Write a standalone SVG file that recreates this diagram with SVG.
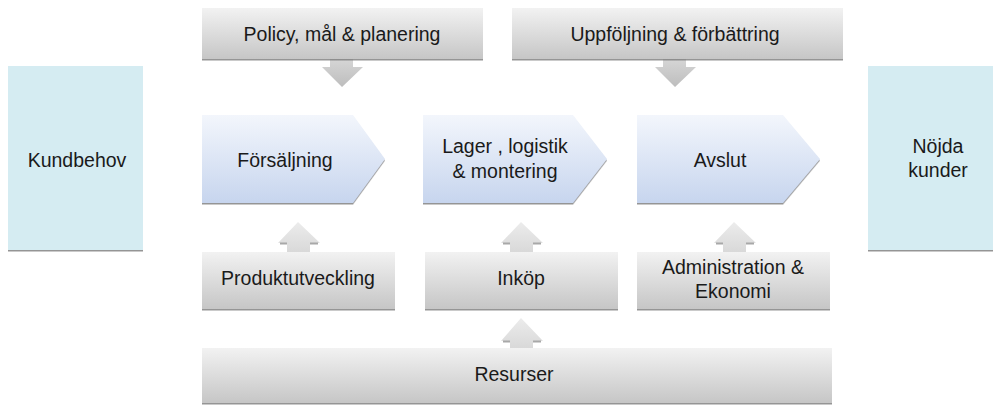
<svg xmlns="http://www.w3.org/2000/svg" width="993" height="405" viewBox="0 0 993 405">
<defs>
<linearGradient id="gGray" x1="0" y1="0" x2="0" y2="1">
<stop offset="0" stop-color="#f2f2f2"/>
<stop offset="1" stop-color="#c6c6c6"/>
</linearGradient>
<linearGradient id="gBlue" x1="0" y1="0" x2="0" y2="1">
<stop offset="0" stop-color="#f3f6fc"/>
<stop offset="1" stop-color="#c7d5ee"/>
</linearGradient>
<linearGradient id="gArrowDown" x1="0" y1="0" x2="0" y2="1">
<stop offset="0" stop-color="#d6d6d6"/>
<stop offset="1" stop-color="#bdbdbd"/>
</linearGradient>
<linearGradient id="gArrowUp" x1="0" y1="0" x2="0" y2="1">
<stop offset="0" stop-color="#ececec"/>
<stop offset="1" stop-color="#d8d8d8"/>
</linearGradient>
<filter id="sh" x="-5%" y="-5%" width="110%" height="120%">
<feDropShadow dx="0" dy="1.5" stdDeviation="0.6" flood-color="#7a7a7a" flood-opacity="0.8"/>
</filter>
</defs>
<style>
.t{font-family:"Liberation Sans",Arial,sans-serif;font-size:19.5px;fill:#1a1a1a;text-anchor:middle}
.gray{fill:url(#gGray);filter:url(#sh)}
.blue{fill:url(#gBlue);filter:url(#sh)}
.side{fill:#d5ecf2;filter:url(#sh)}
.adn{fill:url(#gArrowDown)}
.aup{fill:url(#gArrowUp)}
</style>
<rect width="993" height="405" fill="#ffffff"/>

<g id="connectors">
<path class="adn" d="M330,59 L353,59 L353,67 L363,67 L342,87 L322,67 L330,67 Z"/>
<path class="adn" d="M663,59 L686,59 L686,67 L696,67 L675,87 L655,67 L663,67 Z"/>
<path class="aup" d="M298,222 L320,243 L310,243 L310,253 L287,253 L287,243 L278,243 Z"/>
<path class="aup" d="M521,222 L543,243 L533,243 L533,253 L510,253 L510,243 L501,243 Z"/>
<path class="aup" d="M734,222 L756,243 L746,243 L746,253 L723,253 L723,243 L714,243 Z"/>
<path class="aup" d="M521,318 L543,341 L533,341 L533,349 L510,349 L510,341 L501,341 Z"/>
<g stroke="#a8a8a8" stroke-width="2">
<path d="M280,243.5 H287 M310,243.5 H318"/>
<path d="M503,243.5 H510 M533,243.5 H541"/>
<path d="M716,243.5 H723 M746,243.5 H754"/>
<path d="M503,341.5 H510 M533,341.5 H541"/>
</g>
</g>

<g id="policy">
<rect class="gray" x="202" y="8" width="281" height="51"/>
<text class="t" x="342" y="41">Policy, mål &amp; planering</text>
</g>
<g id="uppfoljning">
<rect class="gray" x="512" y="8" width="331" height="51"/>
<text class="t" x="675" y="41">Uppföljning &amp; förbättring</text>
</g>

<g id="kundbehov">
<rect class="side" x="8" y="66" width="135" height="184"/>
<text class="t" x="77" y="167">Kundbehov</text>
</g>
<g id="nojda">
<rect class="side" x="868" y="66" width="140" height="184"/>
<text class="t" x="938" y="153">Nöjda</text>
<text class="t" x="938" y="177">kunder</text>
</g>

<g id="forsaljning">
<path class="blue" d="M202,115 L353,115 L385,159 L353,203 L202,203 Z"/>
<text class="t" x="285" y="167">Försäljning</text>
</g>
<g id="lager">
<path class="blue" d="M423,115 L573,115 L607,159 L573,203 L423,203 Z"/>
<text class="t" x="505" y="153">Lager , logistik</text>
<text class="t" x="505" y="178">&amp; montering</text>
</g>
<g id="avslut">
<path class="blue" d="M637,115 L783,115 L820,159 L783,203 L637,203 Z"/>
<text class="t" x="720" y="167">Avslut</text>
</g>

<g id="produktutveckling">
<rect class="gray" x="202" y="252" width="193" height="57"/>
<text class="t" x="298" y="285">Produktutveckling</text>
</g>
<g id="inkop">
<rect class="gray" x="425" y="252" width="193" height="57"/>
<text class="t" x="521" y="285">Inköp</text>
</g>
<g id="administration">
<rect class="gray" x="637" y="252" width="193" height="57"/>
<text class="t" x="733" y="274">Administration &amp;</text>
<text class="t" x="733" y="298">Ekonomi</text>
</g>

<g id="resurser">
<rect class="gray" x="202" y="348" width="630" height="55"/>
<text class="t" x="514" y="381">Resurser</text>
</g>
</svg>
